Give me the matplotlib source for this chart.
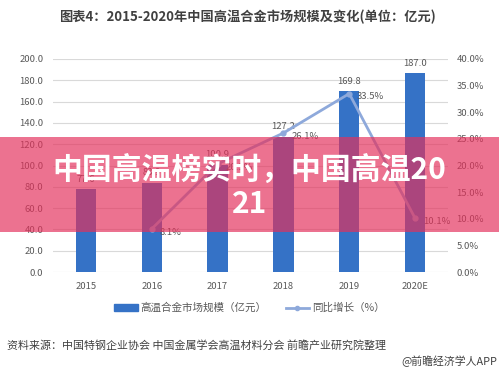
import matplotlib
matplotlib.use('Agg')
import matplotlib.pyplot as plt
from matplotlib.patches import Rectangle
from matplotlib.lines import Line2D

# data
years = ['2015', '2016', '2017', '2018', '2019', '2020E']
market_size = [77.6, 83.9, 100.9, 127.2, 169.8, 187.0]   # 亿元
growth = [None, 8.1, 20.3, 26.1, 33.5, 10.1]              # %
left_ticks = [0, 20, 40, 60, 80, 100, 120, 140, 160, 180, 200]
right_ticks = [0, 5, 10, 15, 20, 25, 30, 35, 40]

plt.rcParams['font.family'] = ['Noto Sans CJK SC', 'DejaVu Sans']

bar_color = '#3572C6'
line_color = '#8EA9DB'
tick_color = '#595959'
grid_color = '#D9D9D9'

fig = plt.figure(figsize=(4.99, 3.71), dpi=100)
ax = fig.add_axes([53 / 499, 1 - 272 / 371, 395 / 499, 213 / 371])
ax2 = ax.twinx()

x = list(range(len(years)))

# bars
ax.bar(x, market_size, width=0.31, color=bar_color, zorder=2)
for xi, v in zip(x, market_size):
    ax.text(xi, v + 5, '%.1f' % v, ha='center', va='bottom',
            fontsize=6.8, color=tick_color)

ax.set_xlim(-0.5, len(years) - 0.5)
ax.set_ylim(0, 200)
ax.set_yticks(left_ticks)
ax.set_yticklabels(['%.1f' % t for t in left_ticks])
ax.set_xticks(x)
ax.set_xticklabels(years)
ax.grid(axis='y', color=grid_color, linewidth=0.8, zorder=0)
ax.tick_params(length=0, labelsize=6.8, labelcolor=tick_color, pad=7)
ax.tick_params(axis='x', pad=7)
for s in ax.spines.values():
    s.set_visible(False)

# growth line
gx = [xi for xi, g in zip(x, growth) if g is not None]
gy = [g for g in growth if g is not None]
ax2.plot(gx, gy, '-o', color=line_color, linewidth=2, markersize=3.5, zorder=3)
for xi, g in zip(gx, gy):
    ax2.text(xi + 0.12, g - 0.6, '%.1f%%' % g, ha='left', va='center',
             fontsize=6.8, color=tick_color)
ax2.set_ylim(0, 40)
ax2.set_yticks(right_ticks)
ax2.set_yticklabels(['%.1f%%' % t for t in right_ticks])
ax2.tick_params(length=0, labelsize=6.8, labelcolor=tick_color, pad=6)
for s in ax2.spines.values():
    s.set_visible(False)

# title
fig.text(0.495, 1 - 17 / 371, '图表4：2015-2020年中国高温合金市场规模及变化(单位：亿元)',
         ha='center', va='center', fontsize=9.5, fontweight='bold', color='#404040')

# legend
handles = [Rectangle((0, 0), 1, 1, color=bar_color),
           Line2D([0], [0], color=line_color, lw=2, marker='o', markersize=3)]
fig.legend(handles, ['高温合金市场规模（亿元）', '同比增长（%）'],
           loc='center', bbox_to_anchor=(0.5, 1 - 308 / 371), ncol=2,
           frameon=False, fontsize=7.6, handlelength=2.2, handleheight=0.6,
           columnspacing=1.8, handletextpad=0.3, labelcolor=tick_color)

# source notes
fig.text(7 / 499, 1 - 345 / 371,
         '资料来源：中国特钢企业协会 中国金属学会高温材料分会 前瞻产业研究院整理',
         ha='left', va='center', fontsize=7.9, color='#404040')
fig.text(497 / 499, 1 - 361 / 371, '@前瞻经济学人APP',
         ha='right', va='center', fontsize=7.8, color='#404040')

# pink banner on top
fig.patches.append(Rectangle((0, 1 - 232 / 371), 1, 95 / 371,
                             transform=fig.transFigure, facecolor='#E4305B',
                             alpha=0.68, edgecolor='none', zorder=10))
fig.text(0.5, 1 - 187 / 371, '中国高温榜实时，中国高温20\n21', ha='center', va='center',
         fontsize=21.5, fontweight='bold', color='white', linespacing=1.15, zorder=11)

fig.savefig('out.png', dpi=100)
